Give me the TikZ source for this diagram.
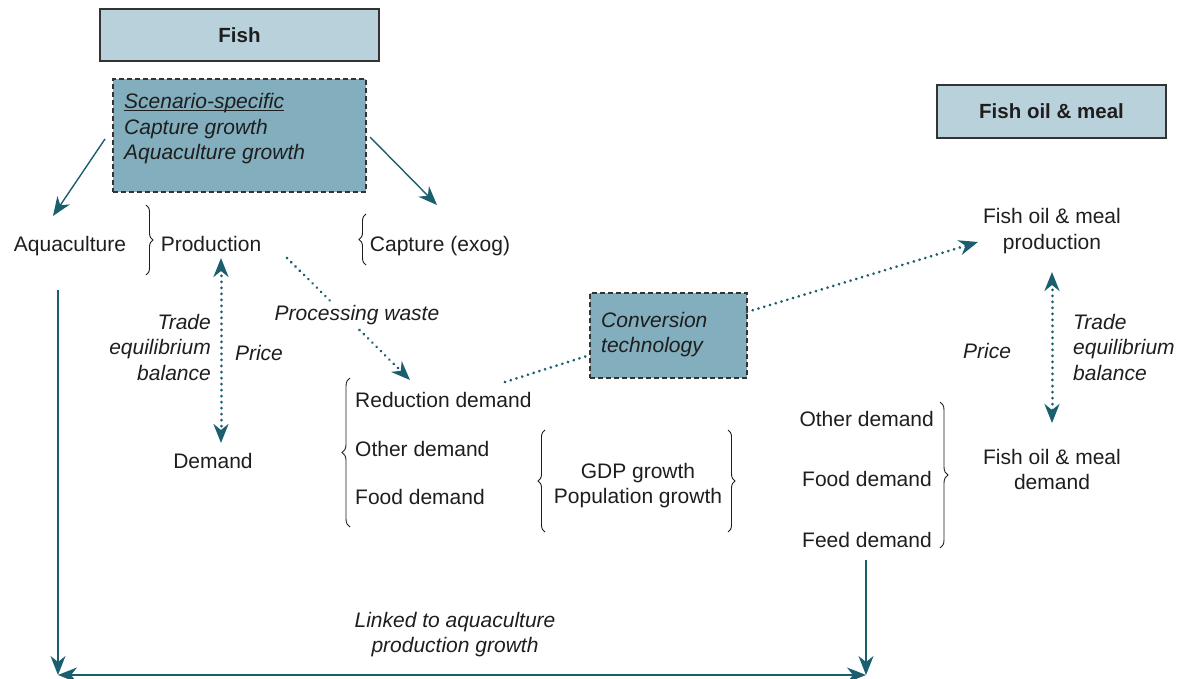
\documentclass[tikz,border=0pt]{standalone}
\usepackage{fontspec}
\setmainfont{Liberation Sans}
\usetikzlibrary{arrows.meta,decorations.pathreplacing,calc}
\definecolor{tealarrow}{HTML}{1B5E6D}
\definecolor{boxlight}{HTML}{B9D1DB}
\definecolor{boxdark}{HTML}{82AEBE}
\definecolor{boxedge}{HTML}{333333}
\definecolor{txt}{HTML}{1E1E1E}
\newcommand\dfont{\fontsize{21}{25.5}\selectfont}
\newcommand\bfont{\fontsize{20.5}{25.5}\selectfont\bfseries}
\newcommand\ulsc[1]{\setbox0\hbox{#1}\rlap{\rule[-2.2pt]{\wd0}{0.9pt}}\box0}
\begin{document}
\begin{tikzpicture}[x=1pt,y=-1pt,
  every node/.style={text=txt, inner sep=0pt, font=\dfont},
  tl/.style={text height=15pt, text depth=4.5pt},
  itl/.style={font=\dfont\itshape},
  titlebox/.style={draw=boxedge, line width=1.3pt, fill=boxlight, font=\bfont},
  dashbox/.style={draw=boxedge, line width=1.1pt, dash pattern=on 5pt off 3pt, fill=boxdark},
  tip/.tip={Stealth[length=19pt,width=15pt,inset=6pt]},
  arr/.style={tealarrow, line width=1.4pt, -tip},
  arrboth/.style={tealarrow, line width=1.4pt, tip-tip},
  dotline/.style={tealarrow, line width=3pt, dash pattern=on 0.01pt off 6pt, line cap=round},
  dotarr/.style={dotline, -tip},
  dotboth/.style={dotline, tip-tip},
  brc/.style={decorate, decoration={brace, amplitude=7pt}, line width=0.9pt, txt}
]
\useasboundingbox (0,0) rectangle (1182,679);

% header boxes
\node[titlebox, minimum width=279pt, minimum height=52pt] (fish) at (239.5,35) {Fish};
\node[titlebox, minimum width=229pt, minimum height=53pt] (fom) at (1051.5,111.5) {Fish oil \& meal};

% dashed boxes
\node[dashbox, minimum width=253pt, minimum height=113pt] (scen) at (239.5,135.5) {};
\node[itl, anchor=west, align=left] (scentxt) at (124,129) {\ulsc{Scenario-specific}\\Capture growth\\Aquaculture growth};
\node[dashbox, minimum width=157pt, minimum height=85pt] (conv) at (668.5,335.5) {};
\node[itl, anchor=west, align=left] (convtxt) at (601,334.5) {Conversion\\technology};

% fish side texts
\node[tl] (aqua) at (70,246) {Aquaculture};
\node[tl] (prod) at (211,246) {Production};
\node[tl] (capt) at (440,246) {Capture (exog)};
\node[tl] (demand) at (213,463) {Demand};
\node[itl, anchor=east, align=right] (trade1) at (211,347) {Trade\\equilibrium\\balance};
\node[itl, tl] (price1) at (259,355) {Price};
\node[tl, anchor=west] (redd) at (355,402) {Reduction demand};
\node[tl, anchor=west] (othd) at (355,451) {Other demand};
\node[tl, anchor=west] (foodd) at (355,499) {Food demand};
\node[align=center] (gdp) at (638,485.5) {GDP growth\\Population growth};

% fish oil side texts
\node[align=center] (fomp) at (1052,231) {Fish oil \& meal\\production};
\node[align=center] (fomd) at (1052,469.5) {Fish oil \& meal\\demand};
\node[itl, anchor=west, align=left] (trade2) at (1073,347) {Trade\\equilibrium\\balance};
\node[itl, tl] (price2) at (987,353) {Price};
\node[tl, anchor=east] (oth2) at (934,421) {Other demand};
\node[tl, anchor=east] (food2) at (932,481) {Food demand};
\node[tl, anchor=east] (feed2) at (932,542) {Feed demand};

% bottom
\coordinate (bl) at (58,675);
\coordinate (br) at (866,675);
\node[itl, align=center] (linked) at (455,634.5) {Linked to aquaculture\\production growth};

% braces
\draw[brc] (146,205) -- (146,275);
\draw[brc] (366,265) -- (366,214);
\draw[brc, decoration={brace, amplitude=8pt}] (350,527) -- (350,378);
\draw[brc] (545,532) -- (545,430);
\draw[brc] (728,430) -- (728,532);
\draw[brc, decoration={brace, amplitude=8pt}] (940,402) -- (940,548);

% solid arrows
\draw[arr] ($(scen.center)+(-134.5,3.5)$) -- ($(aqua.center)+(-17,-30)$);
\draw[arr] ($(scen.center)+(130.5,1.5)$) -- ($(capt.center)+(-3,-41)$);
\draw[arr] ($(aqua.center)+(-12,44)$) -- (bl);
\draw[arr] ($(feed2.east)+(-66,18)$) -- (br);
\draw[arrboth] (bl) -- (br);

% dotted connectors
\draw[dotboth] ($(prod.center)+(10,12)$) -- ($(demand.center)+(8,-20)$);
\draw[dotarr] ($(prod.center)+(76,12)$) -- ($(redd.west)+(55,-22)$);
\node[itl, tl, fill=white, inner sep=2pt] (procw) at (357,315) {Processing waste};
\draw[dotline] ($(redd.west)+(150,-20)$) -- ($(conv.center)+(-78.5,19.5)$);
\draw[dotarr] ($(conv.center)+(78.5,-23.5)$) -- ($(fomp.center)+(-74,11)$);
\draw[dotboth] ($(fomp.center)+(0,41)$) -- ($(fomd.center)+(0,-46.5)$);
\end{tikzpicture}
\end{document}
